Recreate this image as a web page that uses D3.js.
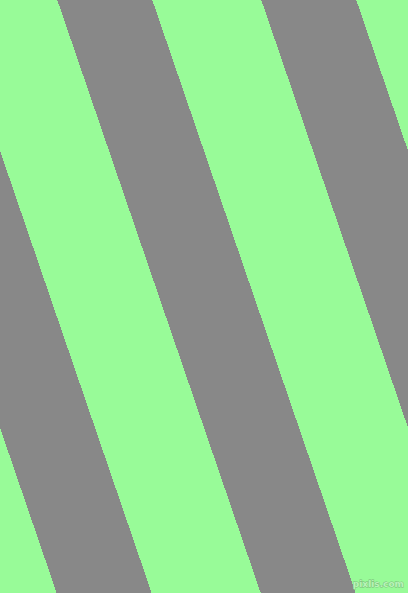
<!DOCTYPE html>
<html>
<head>
<meta charset="utf-8">
<script src="https://cdn.jsdelivr.net/npm/d3@7.9.0/dist/d3.min.js"></script>
<style>
  html, body { margin: 0; padding: 0; background: #98fb98; overflow: hidden; }
  svg { display: block; }
</style>
</head>
<body>
<div id="chart"></div>
<script>
// stripe sequence, left to right, with horizontal widths (px at scale 1)
const bandNames = ['grey', 'green', 'grey', 'green', 'grey', 'green', 'grey', 'green'];
const bandWidths = [95, 109, 95, 109, 95, 109, 95, 109];
const bandColors = { green: '#98fb98', grey: '#888888' };
const watermark = 'pixlis.com';

const width = 408;
const height = 593;
const slope = 203.4 / 593; // horizontal shift per pixel down
const skewDeg = Math.atan(slope) * 180 / Math.PI;

const bands = bandNames.map((name, i) => ({
  name,
  start: d3.sum(bandWidths.slice(0, i)),
  width: bandWidths[i],
}));
const total = d3.sum(bandWidths);

const xScale = d3.scaleLinear()
  .domain([0, total])
  .range([-350.7, -350.7 + total]);

const svg = d3.select('#chart')
  .append('svg')
  .attr('width', width)
  .attr('height', height)
  .attr('viewBox', `0 0 ${width} ${height}`);

svg.append('rect')
  .attr('width', width)
  .attr('height', height)
  .attr('fill', bandColors.green);

svg.append('g')
  .attr('transform', `skewX(${skewDeg})`)
  .selectAll('rect')
  .data(bands)
  .join('rect')
  .attr('x', d => xScale(d.start))
  .attr('y', 0)
  .attr('width', d => xScale(d.start + d.width) - xScale(d.start))
  .attr('height', height)
  .attr('fill', d => bandColors[d.name])
  .attr('shape-rendering', 'crispEdges');

svg.append('text')
  .attr('x', 404)
  .attr('y', 587)
  .attr('text-anchor', 'end')
  .attr('font-family', 'DejaVu Sans, sans-serif')
  .attr('font-size', 9)
  .attr('font-weight', 'bold')
  .attr('fill', '#b8f4b8')
  .attr('stroke', '#78b878')
  .attr('stroke-width', 0.8)
  .attr('paint-order', 'stroke')
  .text(watermark);
</script>
</body>
</html>
